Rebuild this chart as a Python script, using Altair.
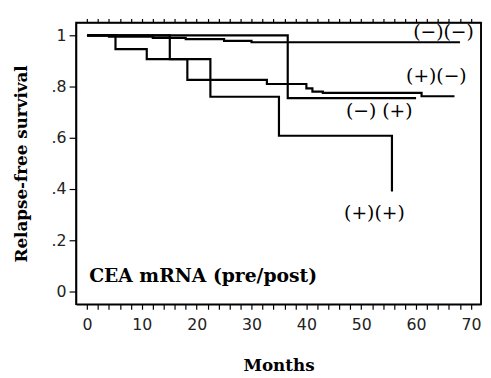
import altair as alt
import pandas as pd

# Kaplan-Meier step curves (months, relapse-free survival)
dd_t = [0, 4, 12, 18, 25, 30, 68]
dd_s = [1.0, 0.995, 0.99, 0.985, 0.978, 0.973, 0.973]
mp_t = [0, 36.6, 60]
mp_s = [1.0, 0.755, 0.755]
pm_t = [0, 5.2, 10.9, 18.3, 32.8, 40.0, 41.1, 43.0, 61.0, 67.0]
pm_s = [1.0, 0.946, 0.907, 0.826, 0.81, 0.793, 0.78, 0.775, 0.762, 0.762]
pp_t = [0, 15.1, 22.5, 35.0, 55.6, 55.6]
pp_s = [1.0, 0.907, 0.76, 0.608, 0.608, 0.39]

groups = ["(−)(−)", "(−)(+)", "(+)(−)", "(+)(+)"]
curves = [(dd_t, dd_s), (mp_t, mp_s), (pm_t, pm_s), (pp_t, pp_s)]

lab_text = ["(−)(−)", "(+)(−)", "(−) (+)", "(+)(+)"]
lab_x = [65.0, 63.7, 53.3, 52.4]
lab_y = [1.014, 0.84, 0.704, 0.308]

x_ticks = list(range(0, 72, 2))
y_ticks = [i / 10 for i in range(0, 11)]

rows = []
for g, (ts, ss) in zip(groups, curves):
    for i, (t, s) in enumerate(zip(ts, ss)):
        rows.append({"group": g, "month": t, "surv": s, "order": i})
df = pd.DataFrame(rows)
labels = pd.DataFrame({"label": lab_text, "month": lab_x, "surv": lab_y})
note = pd.DataFrame({"label": ["CEA mRNA (pre/post)"], "month": [0.4], "surv": [0.062]})

W, H = 411, 286
xscale = alt.Scale(domain=[-2, 71.84], nice=False, zero=False)
yscale = alt.Scale(domain=[-0.05, 1.05], nice=False, zero=False)

y_label_expr = ("round(datum.value*10) % 2 ? '' : (datum.value < 0.01 ? '0' : "
                "(datum.value > 0.99 ? '1' : replace(format(datum.value, '.1f'), '0.', '.')))")

frame = dict(domain=True, domainColor="black", domainWidth=1.6, domainOpacity=1, grid=False,
             tickColor="black", tickWidth=1.2)

xaxis = alt.Axis(
    values=x_ticks,
    labelExpr="datum.value % 10 === 0 ? datum.label : ''",
    tickSize=5,
    title="Months", titleFont="DejaVu Serif", titleFontWeight="bold", titleFontSize=17,
    titlePadding=25, labelFont="DejaVu Sans", labelFontSize=16, labelPadding=8,
    labelColor="#222", labelFlush=False, **frame,
)
yaxis = alt.Axis(
    values=y_ticks,
    labelExpr=y_label_expr,
    tickSize=7,
    title="Relapse-free  survival", titleFont="DejaVu Serif", titleFontWeight="bold",
    titleFontSize=17, titlePadding=21, labelFont="DejaVu Sans", labelFontSize=16,
    labelPadding=3, labelColor="#222", **frame,
)
top_axis = alt.Axis(orient="top", values=x_ticks, labels=False, title=None, tickSize=4, **frame)

lines = alt.Chart(df).mark_line(interpolate="step-after", color="black", strokeWidth=2.2).encode(
    x=alt.X("month:Q", scale=xscale, axis=xaxis),
    y=alt.Y("surv:Q", scale=yscale, axis=yaxis),
    detail="group:N",
    order="order:Q",
)

texts = alt.Chart(labels).mark_text(font="DejaVu Serif", fontSize=19, color="black").encode(
    x=alt.X("month:Q", scale=xscale, axis=top_axis),
    y=alt.Y("surv:Q", scale=yscale),
    text="label:N",
)

note_t = alt.Chart(note).mark_text(font="DejaVu Serif", fontSize=19, fontWeight="bold",
                                    align="left", color="black").encode(
    x=alt.X("month:Q", scale=xscale, axis=None),
    y=alt.Y("surv:Q", scale=yscale),
    text="label:N",
)

# right side of the plot frame
right_edge = alt.Chart(note).mark_rule(color="black", strokeWidth=1.6).encode(
    x=alt.value(W), y=alt.value(0), y2=alt.value(H)
)

chart = alt.layer(lines, texts, note_t, right_edge).resolve_axis(x="independent").properties(
    width=W, height=H,
    background="white",
    autosize=alt.AutoSizeParams(type="none"),
    padding={"left": 69, "top": 12, "right": 2, "bottom": 68},
).configure_view(stroke="black", strokeWidth=1.6)

chart.save("out.html", embed_options={"renderer": "svg", "actions": False})
